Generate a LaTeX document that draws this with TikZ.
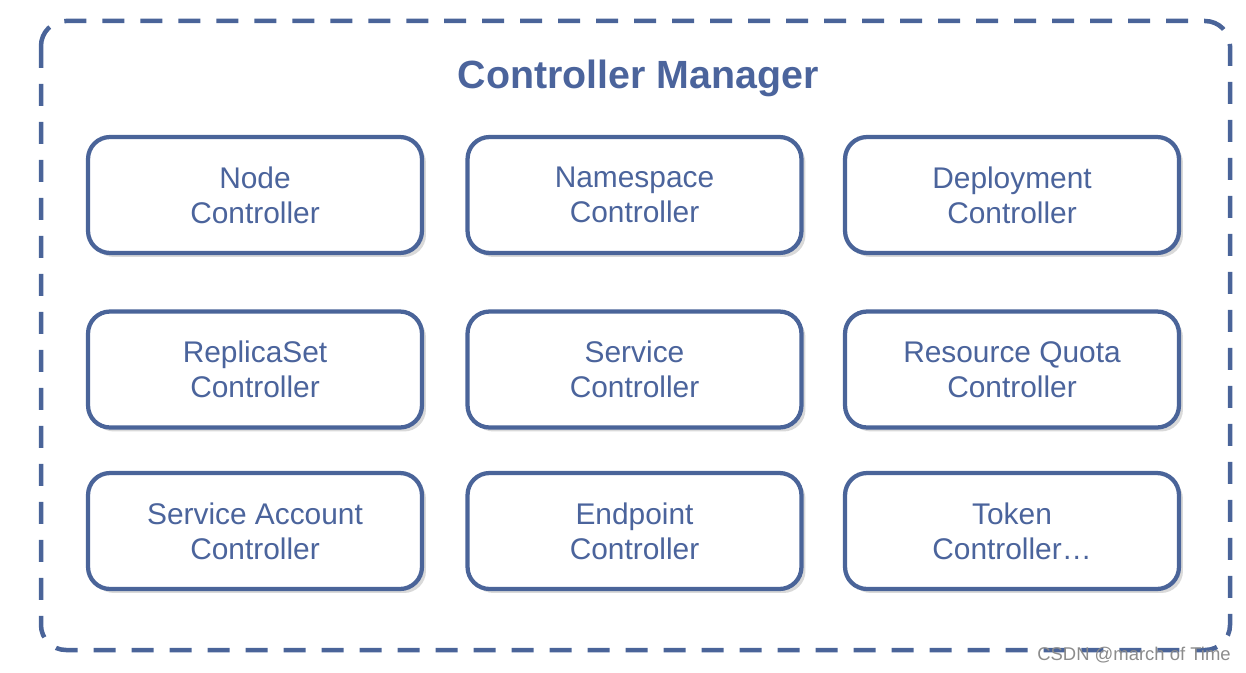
\documentclass[tikz,border=0pt]{standalone}
\usepackage{fontspec}
\setmainfont{Liberation Sans}
\usetikzlibrary{shadows}
\definecolor{cmblue}{HTML}{4A6499}
\definecolor{cmtext}{HTML}{4B649C}
\begin{document}
\begin{tikzpicture}[x=0.02cm, y=-0.02cm,
    ctrlbox/.style={draw=cmblue, line width=0.085cm, fill=white, rounded corners=0.44cm,
        minimum width=6.68cm, minimum height=2.32cm, align=center, text=cmtext,
        font=\fontsize{17}{19.8}\selectfont,
        drop shadow={shadow xshift=0.08cm, shadow yshift=-0.08cm, opacity=0.25, fill=black!60}},
    frame/.style={draw=cmblue, line width=0.09cm, dash pattern=on 0.44cm off 0.32cm, rounded corners=0.5cm}]%% start picture

    \useasboundingbox (0, 0) rectangle (1246, 672);

        % outer dashed frame
        \draw[frame] (41, 21) rectangle (1230, 650);
        \node[text=cmtext, font=\bfseries\fontsize{22.4}{26}\selectfont] (title) at (638, 78){Controller Manager};

        % first row
            \node[ctrlbox] (nodectrl) at (255, 195){Node\\Controller};
            \node[ctrlbox] (nsctrl) at (634.5, 195){Namespace\\Controller};
            \node[ctrlbox] (deployctrl) at (1012, 195){Deployment\\Controller};

        % second row
            \node[ctrlbox] (rsctrl) at (255, 369.5){ReplicaSet\\Controller};
            \node[ctrlbox] (svcctrl) at (634.5, 369.5){Service\\Controller};
            \node[ctrlbox] (quotactrl) at (1012, 369.5){Resource Quota\\Controller};

        % third row
            \node[ctrlbox] (sactrl) at (255, 531){Service Account\\Controller};
            \node[ctrlbox] (epctrl) at (634.5, 531){Endpoint\\Controller};
            \node[ctrlbox] (tokenctrl) at (1012, 531){Token\\Controller\ldots};

        \node[anchor=east, text=black!45, font=\fontsize{10.5}{12}\selectfont, inner sep=0pt] (mark) at (1231, 655){CSDN @march of Time};

\end{tikzpicture}
\end{document}
